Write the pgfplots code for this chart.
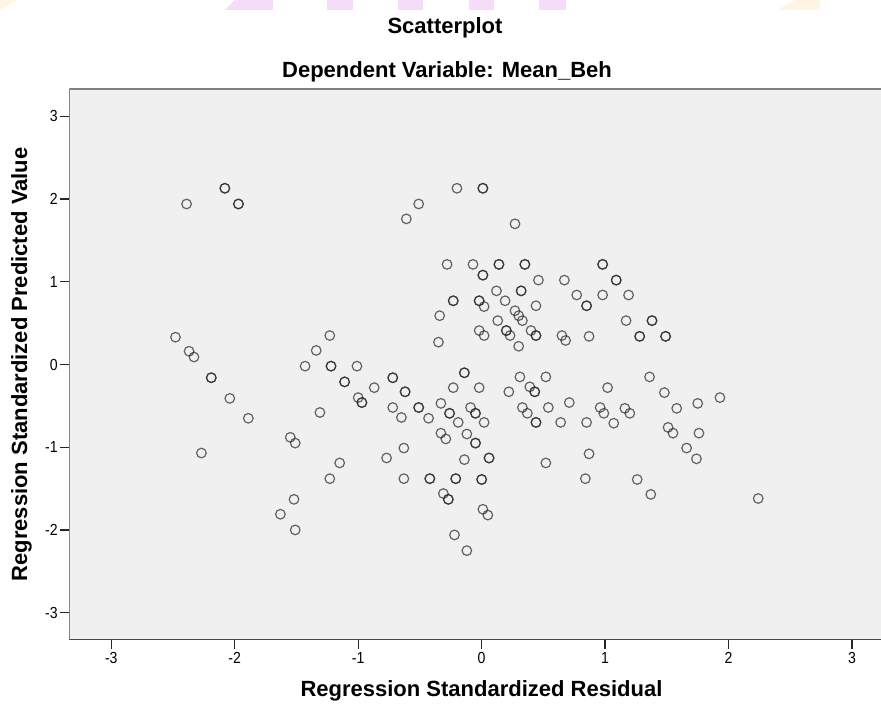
\documentclass[border=0pt]{standalone}
\usepackage{pgfplots}
\pgfplotsset{compat=1.18}
\usepackage{fontspec}
\setmainfont{Liberation Sans}
\newfontfamily\ticknarrow[FakeStretch=0.88]{Liberation Sans}
\definecolor{plotbg}{HTML}{F0F0F0}
\definecolor{framecol}{HTML}{4A4A4A}
\definecolor{pinkw}{HTML}{F5DDF9}
\definecolor{yelw}{HTML}{FFF5E3}

\pgfplotstableread{
x y
-2.39 1.94
-2.08 2.13
-2.08 2.13
-1.97 1.94
-1.97 1.94
-2.48 0.33
-2.37 0.16
-2.33 0.09
-2.19 -0.16
-2.19 -0.16
-2.04 -0.41
-1.89 -0.65
-2.27 -1.07
-1.23 0.35
-1.34 0.17
-1.43 -0.02
-1.22 -0.02
-1.22 -0.02
-1.11 -0.21
-1.11 -0.21
-1.31 -0.58
-1.55 -0.88
-1.51 -0.95
-1.15 -1.19
-1.23 -1.38
-1.52 -1.63
-1.63 -1.81
-1.51 -2.00
-1.01 -0.02
-1.00 -0.40
-0.97 -0.46
-0.97 -0.46
-0.87 -0.28
-0.72 -0.16
-0.72 -0.16
-0.72 -0.52
-0.65 -0.64
-0.62 -0.33
-0.62 -0.33
-0.51 -0.52
-0.51 -0.52
-0.43 -0.65
-0.33 -0.47
-0.26 -0.59
-0.26 -0.59
-0.19 -0.70
-0.09 -0.52
-0.05 -0.59
-0.05 -0.59
0.02 -0.70
-0.23 -0.28
-0.02 -0.28
-0.14 -0.10
-0.14 -0.10
-0.33 -0.83
-0.29 -0.90
-0.12 -0.84
-0.05 -0.95
-0.05 -0.95
-0.63 -1.01
-0.77 -1.13
-0.63 -1.38
-0.42 -1.38
-0.42 -1.38
-0.21 -1.38
-0.21 -1.38
0.00 -1.39
0.00 -1.39
-0.14 -1.15
0.06 -1.13
0.06 -1.13
-0.31 -1.56
-0.27 -1.63
-0.27 -1.63
0.01 -1.75
0.05 -1.82
-0.22 -2.06
-0.12 -2.25
0.22 -0.33
0.39 -0.27
0.43 -0.33
0.43 -0.33
0.31 -0.15
0.52 -0.15
0.33 -0.52
0.37 -0.59
0.54 -0.52
0.71 -0.46
0.44 -0.70
0.44 -0.70
0.64 -0.70
0.85 -0.70
0.96 -0.52
0.99 -0.59
0.52 -1.19
0.87 -1.08
0.84 -1.38
-0.20 2.13
0.01 2.13
0.01 2.13
-0.51 1.94
-0.61 1.76
0.27 1.70
-0.28 1.21
-0.07 1.21
0.14 1.21
0.14 1.21
0.35 1.21
0.35 1.21
0.98 1.21
0.98 1.21
0.01 1.08
0.01 1.08
0.46 1.02
0.67 1.02
0.32 0.89
0.32 0.89
0.12 0.89
0.77 0.84
0.98 0.84
0.85 0.71
0.85 0.71
-0.23 0.77
-0.23 0.77
-0.02 0.77
-0.02 0.77
0.02 0.70
0.19 0.77
0.44 0.71
-0.34 0.59
0.13 0.53
0.27 0.65
0.30 0.59
0.33 0.53
-0.02 0.41
0.02 0.35
0.20 0.41
0.20 0.41
0.23 0.35
0.40 0.41
0.44 0.35
0.44 0.35
0.65 0.35
0.68 0.29
0.87 0.34
-0.35 0.27
0.30 0.22
1.09 1.02
1.09 1.02
1.19 0.84
1.17 0.53
1.38 0.53
1.38 0.53
1.28 0.34
1.28 0.34
1.49 0.34
1.49 0.34
1.36 -0.15
1.02 -0.28
1.48 -0.34
1.93 -0.40
1.75 -0.47
1.58 -0.53
1.16 -0.53
1.20 -0.59
1.07 -0.71
1.51 -0.76
1.55 -0.83
1.76 -0.83
1.66 -1.01
1.74 -1.14
1.26 -1.39
1.37 -1.57
2.24 -1.62
}\resid

\begin{document}
\begin{tikzpicture}[x=0.75pt,y=0.75pt]
\useasboundingbox (0,0) rectangle (881,706);
% faint watermark remnants along the top edge
\fill[yelw] (0,696) -- (0,706) -- (17,706) -- cycle;
\fill[pinkw] (225,696) -- (235,706) -- (273,706) -- (273,696) -- cycle;
\fill[pinkw] (327,696) rectangle (353,706);
\fill[pinkw] (398,696) rectangle (423,706);
\fill[pinkw] (469,696) rectangle (494,706);
\fill[pinkw] (539,696) rectangle (566,706);
\fill[yelw] (777,696) -- (795,706) -- (820,706) -- (820,696) -- cycle;

\begin{axis}[
    at={(51.975pt,49.5pt)}, anchor=south west,
    scale only axis,
    width=608.8pt, height=413.25pt,
    xmin=-3.34, xmax=3.235,
    ymin=-3.33, ymax=3.33,
    axis background/.style={fill=plotbg},
    axis line style={draw=none},
    tick align=outside,
    xtick pos=left, ytick pos=left,
    major tick length=7pt,
    tick style={black!85, line width=1pt},
    xtick={-3,-2,-1,0,1,2,3},
    ytick={-3,-2,-1,0,1,2,3},
    xticklabels={-3,-2,-1,0,1,2,3},
    yticklabels={-3,-2,-1,0,1,2,3},
    ticklabel style={font=\ticknarrow\fontsize{12}{14}\selectfont},
    xticklabel style={inner sep=2pt},
    yticklabel style={inner sep=1.5pt},
  ]
  \addplot[only marks, mark=o, mark size=3.6pt,
    mark options={draw=black!85, draw opacity=0.7, line width=0.9pt}]
    table[x=x, y=y] {\resid};
  \draw[framecol, line width=1.5pt] (rel axis cs:0,0) -- (rel axis cs:1,0);
  \draw[framecol, line width=1.1pt] (rel axis cs:0,0) -- (rel axis cs:0,1);
  \draw[gray, line width=1.1pt] (rel axis cs:0,1) -- (rel axis cs:1,1);
\end{axis}

\node[font=\bfseries\fontsize{16.5}{18}\selectfont, anchor=base] at (445,672.7) {Scatterplot};
\node[font=\bfseries\fontsize{16.5}{18}\selectfont, anchor=base] at (447,628) {Dependent Variable: Mean\_Beh};
\node[font=\bfseries\fontsize{16.5}{18}\selectfont, anchor=base] at (481.5,9) {Regression Standardized Residual};
\node[font=\bfseries\fontsize{16.5}{18}\selectfont, anchor=base, rotate=90] at (27,341.5) {Regression Standardized Predicted Value};
\end{tikzpicture}
\end{document}
